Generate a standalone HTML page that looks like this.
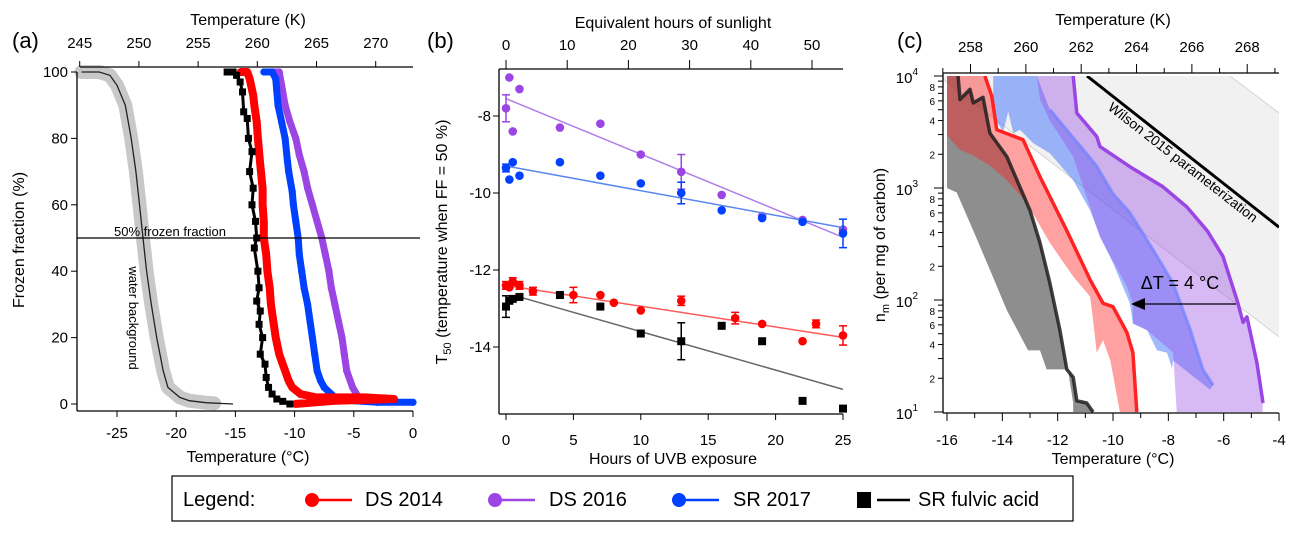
<!DOCTYPE html>
<html><head><meta charset="utf-8"><style>
html,body{margin:0;padding:0;background:#fff;}
svg{display:block;font-family:"Liberation Sans",Arial,sans-serif;}
</style></head><body>
<svg id="fig" width="1300" height="533" viewBox="0 0 1300 533" xmlns="http://www.w3.org/2000/svg">
<g id="pa"></g>
<g id="pb"></g>
<g id="pc"></g>
<g id="legend">
  <rect x="172" y="476" width="901" height="45" fill="#fff" stroke="#000" stroke-width="1.2"/>
  <text x="183" y="506" font-size="20">Legend:</text>
  <g><circle cx="312" cy="500" r="7" fill="#f00"/><line x1="318" y1="500" x2="352" y2="500" stroke="#f00" stroke-width="2.5"/><text x="365" y="506" font-size="20">DS 2014</text></g>
  <g><circle cx="495" cy="500" r="7" fill="#9b45e4"/><line x1="501" y1="500" x2="535" y2="500" stroke="#9b45e4" stroke-width="2.5"/><text x="549" y="506" font-size="20">DS 2016</text></g>
  <g><circle cx="679" cy="500" r="7" fill="#0040ff"/><line x1="685" y1="500" x2="719" y2="500" stroke="#0040ff" stroke-width="2.5"/><text x="733" y="506" font-size="20">SR 2017</text></g>
  <g><rect x="857" y="492" width="14" height="16" fill="#000"/><line x1="877" y1="500" x2="910" y2="500" stroke="#000" stroke-width="2.5"/><text x="918" y="506" font-size="20">SR fulvic acid</text></g>
</g>
</svg>
<script>
// ---------- Panel (a) data: [T °C, frozen fraction %] ----------
const aWaterLine = [[-28,100],[-26.5,100],[-25.6,99],[-25.0,96],[-24.3,90],[-23.8,80],[-23.4,70],[-23.1,60],[-22.8,50],[-22.5,40],[-22.1,30],[-21.65,20],[-21.1,10],[-20.7,5],[-19.7,2],[-18.9,1],[-17.5,0.4],[-15.2,0]];
const aWaterBand = [[-28,100],[-26.5,100],[-25.6,99],[-25.0,96],[-24.3,90],[-23.8,80],[-23.4,70],[-23.1,60],[-22.8,50],[-22.5,40],[-22.1,30],[-21.65,20],[-21.1,10],[-20.7,5],[-19.7,2],[-18.9,1],[-17.5,0.4],[-16.8,0.2]];
const aBlack = [[-15.7,100],[-15.2,100],[-14.9,99],[-14.6,97],[-14.4,94],[-14.3,88],[-14.0,86],[-13.9,80],[-13.6,76],[-13.8,70],[-13.5,65],[-13.6,60],[-13.3,55],[-13.2,50],[-13.4,47],[-13.1,40],[-13.0,35],[-13.2,31],[-12.9,28],[-13.0,24],[-12.7,20],[-12.9,15],[-12.5,12],[-12.4,8],[-12.2,5],[-11.9,3],[-11.5,1.5],[-11.0,0.8],[-10.4,0]];
const aRed = [[-14.6,100],[-14.0,100],[-13.8,98],[-13.5,93],[-13.4,90],[-13.2,85],[-13.1,80],[-12.9,72],[-12.7,65],[-12.7,60],[-12.6,55],[-12.6,50],[-12.4,45],[-12.3,40],[-12.1,35],[-12.0,30],[-11.8,25],[-11.6,20],[-11.3,15],[-10.8,10],[-10.5,7],[-10.2,5],[-9.5,3],[-8.2,2],[-6,2],[-4,2],[-1.6,1.5],[-6.5,1],[-10,0]];
const aBlue = [[-12.6,100],[-11.9,100],[-11.6,98],[-11.4,90],[-11.1,85],[-10.8,80],[-10.6,73],[-10.5,70],[-10.2,64],[-10.1,60],[-9.9,55],[-9.7,50],[-9.6,45],[-9.4,40],[-9.2,35],[-8.9,30],[-8.7,25],[-8.5,20],[-8.3,15],[-8.1,10],[-7.8,7],[-7.5,5],[-6.6,2],[-5,1],[-3,0.5],[0,0.5]];
const aPurple = [[-11.9,100],[-11.3,100],[-11.1,96],[-10.8,90],[-10.4,85],[-9.9,80],[-9.6,75],[-9.2,70],[-8.9,65],[-8.5,60],[-8.1,55],[-7.7,50],[-7.4,45],[-7.1,40],[-6.9,35],[-6.6,30],[-6.3,25],[-6.0,20],[-5.8,15],[-5.6,10],[-5.1,5],[-4.6,2],[-4,1]];
const aXTicks = [-25,-20,-15,-10,-5,0];
const aYTicks = [0,20,40,60,80,100];
const aKTicks = [245,250,255,260,265,270];

// ---------- Panel (b) data ----------
const bPurpleX = [0,0.25,0.5,1,4,7,10,13,16,19,22,25];
const bPurpleY = [-7.8,-7.0,-8.4,-7.3,-8.3,-8.2,-9.0,-9.45,-10.05,-10.6,-10.7,-10.95];
const bPurpleErr = [0.35,0,0,0,0,0,0,0.45,0,0,0,0];
const bPurpleFit = [[0,-7.55],[25,-11.15]];
const bBlueX = [0,0.25,0.5,1,4,7,10,13,16,19,22,25];
const bBlueY = [-9.35,-9.65,-9.2,-9.55,-9.2,-9.55,-9.75,-10.0,-10.45,-10.65,-10.75,-11.05];
const bBlueErr = [0.1,0,0,0,0,0,0,0.28,0,0,0,0.37];
const bBlueFit = [[0,-9.3],[25,-10.9]];
const bRedX = [0,0.25,0.5,1,2,5,7,8,10,13,17,19,22,23,25];
const bRedY = [-12.4,-12.45,-12.3,-12.4,-12.55,-12.65,-12.65,-12.85,-13.05,-12.8,-13.25,-13.4,-13.85,-13.4,-13.7];
const bRedErr = [0.1,0,0.1,0.1,0.1,0.2,0,0,0,0.12,0.15,0,0,0.1,0.25];
const bRedFit = [[0,-12.4],[25,-13.75]];
const bBlackX = [0,0.25,0.5,1,4,7,10,13,16,19,22,25];
const bBlackY = [-12.95,-12.8,-12.75,-12.7,-12.65,-12.95,-13.65,-13.85,-13.45,-13.85,-15.4,-15.6];
const bBlackErr = [0.28,0,0,0,0,0,0,0.48,0,0,0,0];
const bBlackFit = [[1,-12.7],[25,-15.1]];
const bXTicks = [0,5,10,15,20,25];
const bYTicks = [-8,-10,-12,-14];
const bSunTicks = [0,10,20,30,40,50];

// ---------- Panel (c) data: [T °C, log10 nm] ----------
const cWilsonBand = [[-16.3,4],[-5.77,4],[-4,3.67],[-4,1.67]];
const cWilsonLower = [[-16.3,4],[-4,1.67]];
const cWilsonLine = [[-10.94,4],[-4,2.65]];
const cGray = [[-16,4],[-15.6,4],[-15.53,3.79],[-15.17,3.88],[-15.05,3.76],[-14.7,3.81],[-14.45,3.49],[-13.84,3.28],[-13.0,2.8],[-12.64,2.51],[-12.28,2.15],[-11.92,1.73],[-11.67,1.38],[-11.44,1.31],[-11.31,1.1],[-10.95,1.08],[-10.72,1.0],[-11.44,1.0],[-11.44,1.08],[-11.63,1.38],[-12.4,1.38],[-12.64,1.55],[-13.07,1.55],[-13.84,1.91],[-14.45,2.27],[-15.05,2.62],[-15.65,2.96],[-16,3.0]];
const cGrayLine = [[-15.6,4],[-15.53,3.79],[-15.17,3.88],[-15.05,3.76],[-14.7,3.81],[-14.45,3.49],[-13.84,3.28],[-13.0,2.8],[-12.64,2.51],[-12.28,2.15],[-11.92,1.73],[-11.67,1.38],[-11.44,1.31],[-11.31,1.1],[-10.95,1.08],[-10.72,1.0]];
const cRed = [[-16,4],[-14.63,4],[-14.38,3.82],[-14.2,3.52],[-13.25,3.43],[-12.64,3.1],[-11.67,2.62],[-10.83,2.18],[-10.36,1.97],[-10.0,1.94],[-9.5,1.71],[-9.28,1.53],[-9.14,1.0],[-9.75,1.0],[-10.1,1.46],[-10.36,1.64],[-10.59,1.53],[-10.72,1.82],[-10.83,2.03],[-11.44,2.21],[-12.28,2.51],[-13.12,2.87],[-13.84,3.07],[-14.45,3.2],[-15.05,3.29],[-15.53,3.34],[-16,3.47]];
const cRedLine = [[-14.63,4],[-14.38,3.82],[-14.2,3.52],[-13.25,3.43],[-12.64,3.1],[-11.67,2.62],[-10.83,2.18],[-10.36,1.97],[-10.0,1.94],[-9.5,1.71],[-9.28,1.53],[-9.14,1.0]];
const cBlue = [[-14.33,4],[-12.76,4],[-12.28,3.7],[-11.44,3.45],[-10.6,3.2],[-10.0,2.95],[-9.39,2.78],[-8.55,2.45],[-7.83,2.15],[-7.2,1.73],[-6.75,1.38],[-6.38,1.24],[-6.5,1.2],[-7.83,1.46],[-7.87,1.39],[-8.05,1.53],[-8.41,1.55],[-8.77,1.73],[-9.28,1.79],[-9.39,1.97],[-10.0,2.33],[-10.47,2.57],[-10.83,2.8],[-11.44,3.07],[-12.28,3.31],[-12.88,3.4],[-13.36,3.52],[-13.6,3.49],[-13.79,3.68],[-13.97,3.5],[-14.33,3.64]];
const cBlueLine = [[-12.28,3.7],[-11.44,3.45],[-10.6,3.2],[-10.0,2.95],[-9.39,2.78],[-8.55,2.45],[-7.83,2.15],[-7.2,1.73],[-6.75,1.38],[-6.38,1.24]];
const cPurple = [[-12.76,4],[-11.44,4],[-11.31,3.67],[-10.59,3.46],[-10.47,3.37],[-9.39,3.19],[-8.19,3.01],[-7.33,2.83],[-6.6,2.62],[-6.03,2.39],[-5.52,2.0],[-5.3,1.8],[-5.16,1.85],[-4.8,1.44],[-4.58,1.08],[-4.6,1.0],[-7.7,1.0],[-7.83,1.53],[-8.77,1.73],[-9.28,1.79],[-9.28,1.97],[-9.5,2.12],[-10.47,2.56],[-11.44,3.28],[-12.28,3.6],[-12.64,3.79]];
const cPurpleLine = [[-11.44,4],[-11.31,3.67],[-10.59,3.46],[-10.47,3.37],[-9.39,3.19],[-8.19,3.01],[-7.33,2.83],[-6.6,2.62],[-6.03,2.39],[-5.52,2.0],[-5.3,1.8],[-5.16,1.85],[-4.8,1.44],[-4.58,1.08]];
const cXTicks = [-16,-14,-12,-10,-8,-6,-4];
const cKTicks = [258,260,262,264,266,268];
const cDecades = [1,2,3,4];

const NS = "http://www.w3.org/2000/svg";
function mk(parent, tag, attrs, txt){
  const e = document.createElementNS(NS, tag);
  for (const k in attrs) e.setAttribute(k, attrs[k]);
  if (txt !== undefined) e.textContent = txt;
  parent.appendChild(e); return e;
}
function pts(arr, fx, fy){ return arr.map(p => fx(p[0]).toFixed(1)+","+fy(p[1]).toFixed(1)).join(" "); }

// ================= Panel (a) =================
(function(){
  const g = document.getElementById('pa');
  const x = t => 413 + t*11.84, y = f => 404 - f*3.32;
  const L=77, R=420, T=67, B=411;
  let e;
  e = mk(g,'text',{x:12,y:48,'font-size':22}, '(a)');
   
  e = mk(g,'polyline',{points:pts(aWaterBand,x,y),fill:'none',stroke:'#c8c8c8','stroke-width':14,'stroke-linejoin':'round','stroke-linecap':'round'});
   
  e = mk(g,'polyline',{points:pts(aWaterLine,x,y),fill:'none',stroke:'#222','stroke-width':1.3});
   
  const series = [[aPurple,'#9b45e4','purple',7],[aBlue,'#0040ff','blue',7],[aRed,'#f00','red',8],[aBlack,'#000','black',3]];
  series.forEach(s=>{
    const sg = mk(g,'g',{});
     
    mk(sg,'polyline',{points:pts(s[0],x,y),fill:'none',stroke:s[1],'stroke-width':s[3],'stroke-linejoin':'round'});
    s[0].forEach((p,i)=>{
      let m;
      if (s[2]==='black') m = mk(sg,'rect',{x:x(p[0])-3.5,y:y(p[1])-3.5,width:7,height:7,fill:s[1]});
      else m = mk(sg,'circle',{cx:x(p[0]),cy:y(p[1]),r:3.6,fill:s[1]});
       
    });
  });
  e = mk(g,'line',{x1:L,y1:y(50),x2:R,y2:y(50),stroke:'#000','stroke-width':1.2});
   
  e = mk(g,'text',{x:114,y:236,'font-size':13}, '50% frozen fraction');
   
  e = mk(g,'text',{x:0,y:0,'font-size':13,'text-anchor':'middle',transform:'translate(129,318) rotate(90)'}, 'water background');
   
  mk(g,'line',{x1:L,y1:T+5,x2:L,y2:B,stroke:'#000','stroke-width':1.3});
  mk(g,'line',{x1:L,y1:B,x2:413,y2:B,stroke:'#000','stroke-width':1.3});
  mk(g,'line',{x1:80,y1:T,x2:413,y2:T,stroke:'#000','stroke-width':1.3});
  aXTicks.forEach(t=>{
    mk(g,'line',{x1:x(t),y1:B,x2:x(t),y2:B+6,stroke:'#000'});
    e = mk(g,'text',{x:x(t),y:438,'font-size':15,'text-anchor':'middle'}, String(t));
     
  });
  aYTicks.forEach(v=>{
    mk(g,'line',{x1:L-6,y1:y(v),x2:L,y2:y(v),stroke:'#000'});
    e = mk(g,'text',{x:68,y:y(v)+5,'font-size':15,'text-anchor':'end'}, String(v));
     
  });
  aKTicks.forEach(k=>{
    const px = x(k-273.15);
    mk(g,'line',{x1:px,y1:T,x2:px,y2:T-6,stroke:'#000'});
    e = mk(g,'text',{x:px,y:48,'font-size':15,'text-anchor':'middle'}, String(k));
     
  });
  e = mk(g,'text',{x:248,y:25,'font-size':16,'text-anchor':'middle'}, 'Temperature (K)');
   
  e = mk(g,'text',{x:248,y:462,'font-size':16,'text-anchor':'middle'}, 'Temperature (°C)');
   
  e = mk(g,'text',{x:0,y:0,'font-size':16,'text-anchor':'middle',transform:'translate(24,240) rotate(-90)'}, 'Frozen fraction (%)');
   
})();

// ================= Panel (b) =================
(function(){
  const g = document.getElementById('pb');
  const x = h => 506 + h*13.48, y = v => 116 + (-8 - v)*38.5;
  const L=499, R=843, T=69, B=414;
  let e;
  e = mk(g,'text',{x:427,y:48,'font-size':22}, '(b)');
   
  const S = [[bPurpleX,bPurpleY,bPurpleErr,bPurpleFit,'#9b45e4','#b07ee8','purple'],
             [bBlueX,bBlueY,bBlueErr,bBlueFit,'#0040ff','#5a86f0','blue'],
             [bRedX,bRedY,bRedErr,bRedFit,'#f00','#ff5a5a','red'],
             [bBlackX,bBlackY,bBlackErr,bBlackFit,'#000','#666','black']];
  S.forEach(s=>{
    const sg = mk(g,'g',{});
     
    e = mk(sg,'line',{x1:x(s[3][0][0]),y1:y(s[3][0][1]),x2:x(s[3][1][0]),y2:y(s[3][1][1]),stroke:s[5],'stroke-width':1.5});
     
    s[0].forEach((hx,i)=>{
      const px = x(hx), py = y(s[1][i]), er = s[2][i];
      if (er>0){
        mk(sg,'line',{x1:px,y1:y(s[1][i]+er),x2:px,y2:y(s[1][i]-er),stroke:s[4],'stroke-width':1.5});
        mk(sg,'line',{x1:px-4,y1:y(s[1][i]+er),x2:px+4,y2:y(s[1][i]+er),stroke:s[4],'stroke-width':1.5});
        mk(sg,'line',{x1:px-4,y1:y(s[1][i]-er),x2:px+4,y2:y(s[1][i]-er),stroke:s[4],'stroke-width':1.5});
      }
      let m;
      if (s[6]==='black') m = mk(sg,'rect',{x:px-4,y:py-4,width:8,height:8,fill:s[4]});
      else m = mk(sg,'circle',{cx:px,cy:py,r:4.3,fill:s[4]});
       
    });
  });
  mk(g,'line',{x1:L,y1:T,x2:L,y2:B,stroke:'#000','stroke-width':1.3});
  mk(g,'line',{x1:L,y1:B,x2:R,y2:B,stroke:'#000','stroke-width':1.3});
  mk(g,'line',{x1:L,y1:T,x2:R,y2:T,stroke:'#000','stroke-width':1.3});
  bXTicks.forEach(t=>{
    mk(g,'line',{x1:x(t),y1:B,x2:x(t),y2:B+6,stroke:'#000'});
    e = mk(g,'text',{x:x(t),y:445,'font-size':15,'text-anchor':'middle'}, String(t));
     
  });
  bYTicks.forEach(v=>{
    mk(g,'line',{x1:L-6,y1:y(v),x2:L,y2:y(v),stroke:'#000'});
    e = mk(g,'text',{x:491,y:y(v)+5,'font-size':15,'text-anchor':'end'}, String(v));
     
  });
  bSunTicks.forEach(s=>{
    const px = 506 + s*6.12;
    mk(g,'line',{x1:px,y1:T,x2:px,y2:T-9,stroke:'#000'});
    e = mk(g,'text',{x:px,y:50,'font-size':15,'text-anchor':'middle'}, String(s));
     
  });
  e = mk(g,'text',{x:673,y:28,'font-size':16,'text-anchor':'middle'}, 'Equivalent hours of sunlight');
   
  e = mk(g,'text',{x:673,y:464,'font-size':16,'text-anchor':'middle'}, 'Hours of UVB exposure');
   
  e = mk(g,'text',{x:0,y:0,'font-size':16,'text-anchor':'middle',transform:'translate(447,242) rotate(-90)'});
  e.innerHTML = 'T<tspan font-size="11" dy="4">50</tspan><tspan dy="-4"> (temperature when FF = 50 %)</tspan>';
   
})();

// ================= Panel (c) =================
(function(){
  const g = document.getElementById('pc');
  const x = t => 947 + (t+16)*27.67, y = l => 76 + (4-l)*112;
  const L=943, R=1279, T=73, B=413;
  let e;
  e = mk(g,'text',{x:897,y:48,'font-size':22}, '(c)');
   
  const clip = mk(g,'clipPath',{id:'cclip'});
  mk(clip,'rect',{x:L,y:76,width:R-L,height:B-76});
  const inner = mk(g,'g',{'clip-path':'url(#cclip)'});
  e = mk(inner,'polygon',{points:pts(cWilsonBand,x,y),fill:'#f1f1f1',stroke:'none'});
   
  mk(inner,'line',{x1:x(cWilsonLower[0][0]),y1:y(cWilsonLower[0][1]),x2:x(cWilsonLower[1][0]),y2:y(cWilsonLower[1][1]),stroke:'#d4d4d4','stroke-width':1});
  mk(inner,'line',{x1:x(-5.77),y1:y(4),x2:x(-4),y2:y(3.67),stroke:'#d4d4d4','stroke-width':1});
  const fills = [[cGray,'rgba(50,50,50,0.55)','gray'],[cRed,'rgba(255,30,30,0.42)','red'],[cBlue,'rgba(30,90,255,0.42)','blue'],[cPurple,'rgba(150,70,230,0.38)','purple']];
  fills.forEach(f=>{
    e = mk(inner,'polygon',{points:pts(f[0],x,y),fill:f[1],stroke:'none'});
     
  });
  e = mk(inner,'polyline',{points:pts(cGrayLine,x,y),fill:'none',stroke:'rgba(30,30,30,0.85)','stroke-width':3.5,'stroke-linejoin':'round'});
   
  e = mk(inner,'polyline',{points:pts(cRedLine,x,y),fill:'none',stroke:'#f22','stroke-width':3.5,'stroke-linejoin':'round'});
   
  e = mk(inner,'polyline',{points:pts(cBlueLine,x,y),fill:'none',stroke:'rgba(110,130,255,0.7)','stroke-width':3,'stroke-linejoin':'round'});
   
  e = mk(inner,'polyline',{points:pts(cPurpleLine,x,y),fill:'none',stroke:'#9b45e4','stroke-width':3.5,'stroke-linejoin':'round'});
   
  e = mk(inner,'line',{x1:x(cWilsonLine[0][0]),y1:y(cWilsonLine[0][1]),x2:x(cWilsonLine[1][0]),y2:y(cWilsonLine[1][1]),stroke:'#000','stroke-width':3});
   
  e = mk(g,'text',{x:0,y:0,'font-size':14,'text-anchor':'middle',transform:'translate(1180,166) rotate(38)'}, 'Wilson 2015 parameterization');
   
  e = mk(g,'text',{x:1180,y:289,'font-size':18,'text-anchor':'middle'}, 'ΔT = 4 °C');
   
  e = mk(g,'line',{x1:1236,y1:304,x2:1143,y2:304,stroke:'#000','stroke-width':1.3});
   
  mk(g,'polygon',{points:'1131,304 1145,298 1145,310',fill:'#000'});
  mk(g,'line',{x1:L,y1:T,x2:L,y2:B,stroke:'#000','stroke-width':1.3});
  mk(g,'line',{x1:L,y1:B,x2:R,y2:B,stroke:'#000','stroke-width':1.3});
  mk(g,'line',{x1:L,y1:T,x2:R,y2:T,stroke:'#000','stroke-width':1.3});
  cXTicks.forEach(t=>{
    mk(g,'line',{x1:x(t),y1:B,x2:x(t),y2:B+8,stroke:'#000'});
    if (t<-4) mk(g,'line',{x1:x(t+1),y1:B,x2:x(t+1),y2:B+5,stroke:'#000'});
    e = mk(g,'text',{x:x(t),y:445,'font-size':15,'text-anchor':'middle'}, String(t));
     
  });
  cKTicks.forEach(k=>{
    const px = x(k-273.15);
    mk(g,'line',{x1:px,y1:T,x2:px,y2:T-9,stroke:'#000'});
    const pm = x(k-272.15);
    if (pm<R) mk(g,'line',{x1:pm,y1:T,x2:pm,y2:T-5,stroke:'#000'});
    e = mk(g,'text',{x:px,y:52,'font-size':15,'text-anchor':'middle'}, String(k));
     
  });
  mk(g,'line',{x1:x(-16.15),y1:T,x2:x(-16.15),y2:T-5,stroke:'#000'});
  cDecades.forEach(d=>{
    mk(g,'line',{x1:L-9,y1:y(d),x2:L,y2:y(d),stroke:'#000'});
    e = mk(g,'text',{x:918,y:y(d)+7,'font-size':15,'text-anchor':'end'});
    e.innerHTML = '10<tspan font-size="10" dy="-8">'+d+'</tspan>';
     
    if (d<4) for (let m=2;m<=9;m++){
      const py = y(d+Math.log10(m));
      mk(g,'line',{x1:L-5,y1:py,x2:L,y2:py,stroke:'#000'});
      if (m%2===0){
        e = mk(g,'text',{x:935,y:py+4,'font-size':10,'text-anchor':'end'}, String(m));
         
      }
    }
  });
  e = mk(g,'text',{x:1113,y:25,'font-size':16,'text-anchor':'middle'}, 'Temperature (K)');
   
  e = mk(g,'text',{x:1113,y:464,'font-size':16,'text-anchor':'middle'}, 'Temperature (°C)');
   
  e = mk(g,'text',{x:0,y:0,'font-size':16,'text-anchor':'middle',transform:'translate(885,245) rotate(-90)'});
  e.innerHTML = 'n<tspan font-size="11" dy="4">m</tspan><tspan dy="-4"> (per mg of carbon)</tspan>';
   
})();
</script>
</body></html>
